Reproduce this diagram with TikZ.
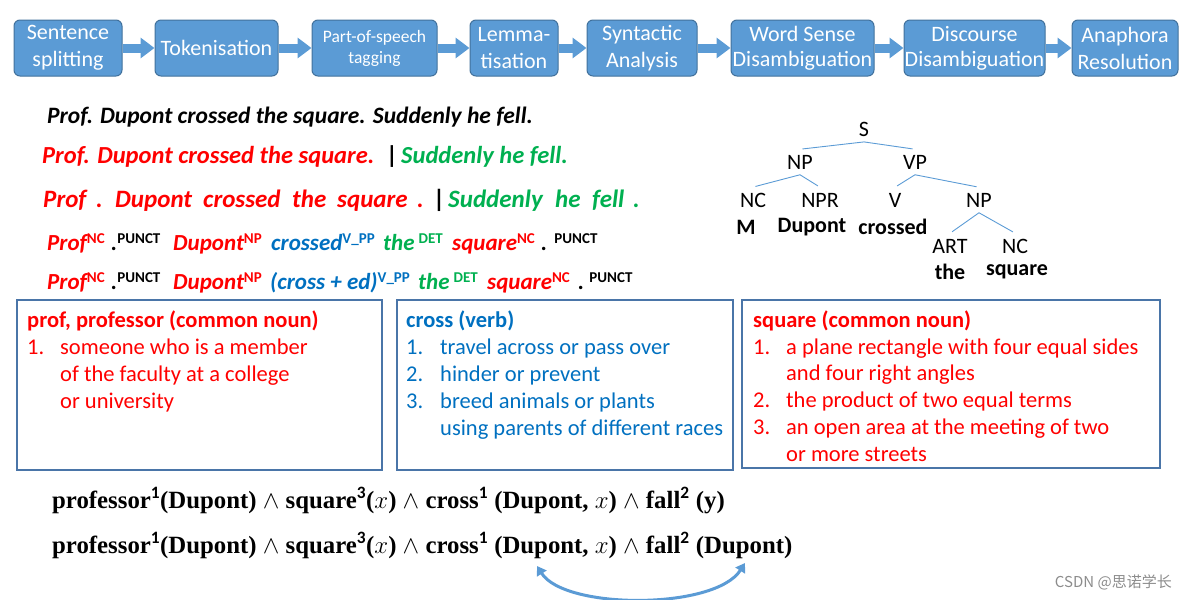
\documentclass[tikz,border=0pt]{standalone}
\usepackage{fontspec}
\setmainfont{Carlito}
\newfontfamily\formfont{Liberation Serif}
\newfontfamily\cjk{Noto Sans CJK SC}
\usetikzlibrary{arrows.meta}
\definecolor{boxblue}{HTML}{5B9BD5}
\definecolor{boxedge}{HTML}{41719C}
\definecolor{frameblue}{HTML}{4A75A8}
\definecolor{tred}{HTML}{FF0000}
\definecolor{tgreen}{HTML}{00B050}
\definecolor{tblue}{HTML}{0070C0}
\newcommand\sups[1]{\raisebox{7pt}{\fontsize{15}{15}\selectfont\upshape\bfseries #1}}
\begin{document}
\begin{tikzpicture}[x=1pt,y=-1pt,
  stage/.style={draw=boxedge, fill=boxblue, rounded corners=6pt, text=white,
    font=\fontsize{22}{27}\selectfont, align=center, minimum height=56pt, inner sep=0pt, line width=1pt},
  flow/.style={boxblue, line width=9pt, -{Triangle[length=14pt,width=20pt]}},
  sent/.style={font=\bfseries\itshape\fontsize{25}{27}\selectfont, anchor=base west, inner sep=0pt},
  tag/.style={font=\bfseries\itshape\fontsize{23}{25}\selectfont, anchor=base west, inner sep=0pt},
  tlab/.style={font=\fontsize{22}{24}\selectfont, inner xsep=0pt, inner ysep=5.5pt},
  tword/.style={font=\bfseries\fontsize{22}{24}\selectfont, inner sep=0pt},
  tline/.style={boxblue, line width=0.9pt, shorten >=2.5pt},
  frame/.style={draw=frameblue, line width=1.2pt, inner sep=0pt},
  deftxt/.style={font=\fontsize{22.5}{24}\selectfont, anchor=base west, inner sep=0pt},
  deftitle/.style={deftxt, font=\bfseries\fontsize{22.5}{24}\selectfont},
  form/.style={font=\formfont\fontsize{24.8}{26}\selectfont, anchor=base west, inner sep=0pt},
  link/.style={boxblue, line width=3pt, {Triangle[length=9pt,width=11pt]}-{Triangle[length=9pt,width=11pt]}}
]
\useasboundingbox (0,0) rectangle (1187,600);

% pipeline
\node[stage, minimum width=108pt] (s1) at (68,48) {Sentence\\splitting};
\node[stage, minimum width=123pt] (s2) at (216.5,48) {Tokenisation};
\node[stage, minimum width=125pt, font=\fontsize{17.5}{21}\selectfont] (s3) at (374.5,48) {Part-of-speech\\tagging};
\node[stage, minimum width=88pt] (s4) at (514,48) {Lemma-\\tisation};
\node[stage, minimum width=110pt] (s5) at (642,48) {Syntactic\\Analysis};
\node[stage, minimum width=143pt, font=\fontsize{22}{25}\selectfont] (s6) at (802.5,48) {Word Sense\\Disambiguation};
\node[stage, minimum width=141pt, font=\fontsize{22}{25}\selectfont] (s7) at (974.5,48) {Discourse\\Disambiguation};
\node[stage, minimum width=106pt] (s8) at (1125,48) {Anaphora\\Resolution};
\foreach \a/\b in {s1/s2,s2/s3,s3/s4,s4/s5,s5/s6,s6/s7,s7/s8}
  \draw[flow] (\a.east) -- (\b.west);

% sentence lines
\node[sent, font=\bfseries\itshape\fontsize{23.5}{25}\selectfont] (l1) at (47,123) {Prof. Dupont crossed the square. Suddenly he fell.};
\node[sent, font=\bfseries\itshape\fontsize{24.5}{26}\selectfont, text=tred] (l2a) at (42,163) {Prof. Dupont crossed the square.};
\node[sent, font=\bfseries\fontsize{24.5}{26}\selectfont] (l2b) at (386,163) {|};
\node[sent, font=\bfseries\itshape\fontsize{24.5}{26}\selectfont, text=tgreen] (l2c) at (401,163) {Suddenly he fell.};

\node[sent, text=tred] (t1) at (43,207) {Prof};
\node[sent, text=tred] (t2) at (96,207) {.};
\node[sent, text=tred] (t3) at (115,207) {Dupont};
\node[sent, text=tred] (t4) at (203,207) {crossed};
\node[sent, text=tred] (t5) at (292,207) {the};
\node[sent, text=tred] (t6) at (337,207) {square};
\node[sent, text=tred] (t7) at (417,207) {.};
\node[sent, font=\bfseries\fontsize{25}{27}\selectfont] (t8) at (433,207) {|};
\node[sent, text=tgreen] (t9) at (448,207) {Suddenly};
\node[sent, text=tgreen] (t10) at (555,207) {he};
\node[sent, text=tgreen] (t11) at (592,207) {fell};
\node[sent, text=tgreen] (t12) at (633,207) {.};

\node[tag, text=tred] (p1) at (47,250) {Prof\sups{NC}};
\node[tag] (p2) at (111,250) {.\sups{PUNCT}};
\node[tag, text=tred] (p3) at (173,250) {Dupont\sups{NP}};
\node[tag, text=tblue] (p4) at (271,250) {crossed\sups{V\_PP}};
\node[tag, text=tgreen] (p5) at (383,250) {the\hspace{4pt}\sups{DET}};
\node[tag, text=tred] (p6) at (452,250) {square\sups{NC}};
\node[tag] (p7) at (541,250) {.\hspace{7pt}\sups{PUNCT}};

\node[tag, text=tred] (q1) at (47,289) {Prof\sups{NC}};
\node[tag] (q2) at (111,289) {.\sups{PUNCT}};
\node[tag, text=tred] (q3) at (173,289) {Dupont\sups{NP}};
\node[tag, text=tblue] (q4) at (270,289) {(cross + ed)\sups{V\_PP}};
\node[tag, text=tgreen] (q5) at (418,289) {the\hspace{4pt}\sups{DET}};
\node[tag, text=tred] (q6) at (487,289) {square\sups{NC}};
\node[tag] (q7) at (578,289) {.\hspace{5pt}\sups{PUNCT}};

% parse tree
\node[tlab] (S) at (864,129) {S};
\node[tlab] (NP) at (800,162) {NP};
\node[tlab] (VP) at (915,162) {VP};
\node[tlab] (NC) at (753,200) {NC};
\node[tlab] (NPR) at (820,200) {NPR};
\node[tlab] (V) at (895,200) {V};
\node[tlab] (NPb) at (979,200) {NP};
\node[tlab] (ART) at (950,246) {ART};
\node[tlab] (NCb) at (1015,246) {NC};
\node[tword] (wM) at (746,227) {M};
\node[tword] (wD) at (812,227) {Dupont};
\node[tword] (wC) at (893,227) {crossed};
\node[tword] (wT) at (950,272) {the};
\node[tword] (wS) at (1017,272) {square};
\draw[tline] (S.south) -- (NP.north);
\draw[tline] (S.south) -- (VP.north);
\draw[tline] (NP.south) -- (NC.north);
\draw[tline] (NP.south) -- (NPR.north);
\draw[tline] (VP.south) -- (V.north);
\draw[tline] (VP.south) -- (NPb.north);
\draw[tline] (NPb.south) -- (ART.north);
\draw[tline] (NPb.south) -- (NCb.north);

% definition boxes
\node[frame, minimum width=365pt, minimum height=170pt] (b1) at (199.5,385) {};
\node[frame, minimum width=336pt, minimum height=170pt] (b2) at (565,385) {};
\node[frame, minimum width=418pt, minimum height=168pt] (b3) at (951,384) {};

\begin{scope}[every node/.style={deftxt, text=tred}]
\node[deftitle] (d1t) at (27,327) {prof, professor (common noun)};
\node (d1n1) at (27,354) {1.};
\node (d1a) at (60,354) {someone who is a member};
\node (d1b) at (60,381) {of the faculty at a college};
\node (d1c) at (60,408) {or university};
\end{scope}

\begin{scope}[every node/.style={deftxt, text=tblue}]
\node[deftitle] (d2t) at (406,327) {cross (verb)};
\node (d2n1) at (406,354) {1.};
\node (d2a) at (440,354) {travel across or pass over};
\node (d2n2) at (406,381) {2.};
\node (d2b) at (440,381) {hinder or prevent};
\node (d2n3) at (406,408) {3.};
\node (d2c) at (440,408) {breed animals or plants};
\node (d2d) at (440,435) {using parents of different races};
\end{scope}

\begin{scope}[every node/.style={deftxt, text=tred}]
\node[deftitle] (d3t) at (753,327) {square (common noun)};
\node (d3n1) at (753,354) {1.};
\node (d3a) at (786,354) {a plane rectangle with four equal sides};
\node (d3b) at (786,380) {and four right angles};
\node (d3n2) at (753,407) {2.};
\node (d3c) at (786,407) {the product of two equal terms};
\node (d3n3) at (753,434) {3.};
\node (d3d) at (786,434) {an open area at the meeting of two};
\node (d3e) at (786,461) {or more streets};
\end{scope}

% logical forms
\node[form] (f1) at (52,508) {\textbf{professor$^{\mathbf{1}}$(Dupont) $\wedge$ square$^{\mathbf{3}}$($x$) $\wedge$ cross$^{\mathbf{1}}$ (Dupont, $x$) $\wedge$ fall$^{\mathbf{2}}$ (y)}};
\node[form] (f2) at (52,553) {\textbf{professor$^{\mathbf{1}}$(Dupont) $\wedge$ square$^{\mathbf{3}}$($x$) $\wedge$ cross$^{\mathbf{1}}$ (Dupont, $x$) $\wedge$ fall$^{\mathbf{2}}$ (Dupont)}};
\coordinate (c1) at (537,566);
\coordinate (c2) at (745,563);
\draw[link] (c1) .. controls (565,610) and (715,610) .. (c2);

\node[font=\cjk\fontsize{15}{15}\selectfont, text=black!45, anchor=east, inner sep=0pt] (wm) at (1172,582) {CSDN @思诺学长};
\end{tikzpicture}
\end{document}
